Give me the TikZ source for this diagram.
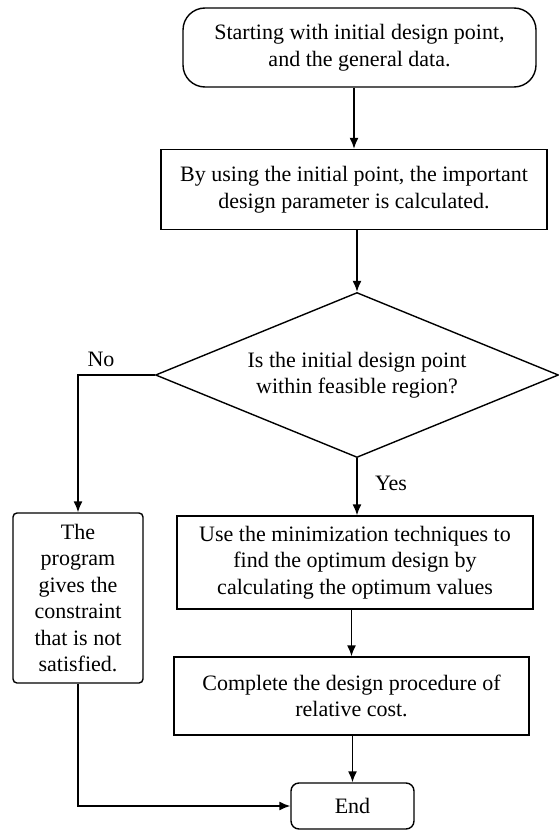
\documentclass[tikz,border=0pt]{standalone}
\usepackage{fontspec}
\setmainfont{Liberation Serif}
\usetikzlibrary{positioning, shapes.geometric, arrows.meta}

\begin{document}
\begin{tikzpicture}[x=1pt, y=-1pt, line width=1.4pt, >={Latex[length=11pt,width=9pt]},
        every node/.style={font=\fontsize{22}{26.5}\selectfont, align=center},
        box/.style={draw, rectangle, inner sep=0pt}]
        \useasboundingbox (0,0) rectangle (559,832);

        \node[box, rounded corners=22pt, minimum width=353pt, minimum height=79pt] (start) at (359.5,47.5) {Starting with initial design point,\\and the general data.};
        \node[box, minimum width=386pt, minimum height=80pt] (calc) at (354,189.5) {By using the initial point, the important\\design parameter is calculated.};
        \node[draw, diamond, aspect=2.44, minimum width=403pt, minimum height=165pt, inner sep=0pt] (check) at (357,375) {Is the initial design point\\within feasible region?};
        \node[box, rounded corners=4pt, minimum width=130pt, minimum height=170pt] (noside) at (78,598) {The\\program\\gives the\\constraint\\that is not\\satisfied.};
        \node[box, minimum width=356pt, minimum height=93pt] (minim) at (355,562.5) {Use the minimization techniques to\\find the optimum design by\\calculating the optimum values};
        \node[box, minimum width=355pt, minimum height=78pt] (cost) at (351.5,696) {Complete the design procedure of\\relative cost.};
        \node[box, rounded corners=8pt, minimum width=123pt, minimum height=46pt] (fin) at (352.5,806) {End};

        \draw[->] (start.south -| calc.north) -- (calc.north);
        \draw[->] (calc.south -| check.north) -- (check.north);
        \draw[->] (check.south) -- node[right=14pt, pos=0.45] {Yes} (check.south |- minim.north);
        \draw[->] (check.west) -| node[above=4pt, pos=0.35] {No} (noside.north);
        \draw[->] (minim.south -| cost.north) -- (cost.north);
        \draw[->] (cost.south -| fin.north) -- (fin.north);
        \draw[->] (noside.south) |- (fin.west);
    \end{tikzpicture}
\end{document}
